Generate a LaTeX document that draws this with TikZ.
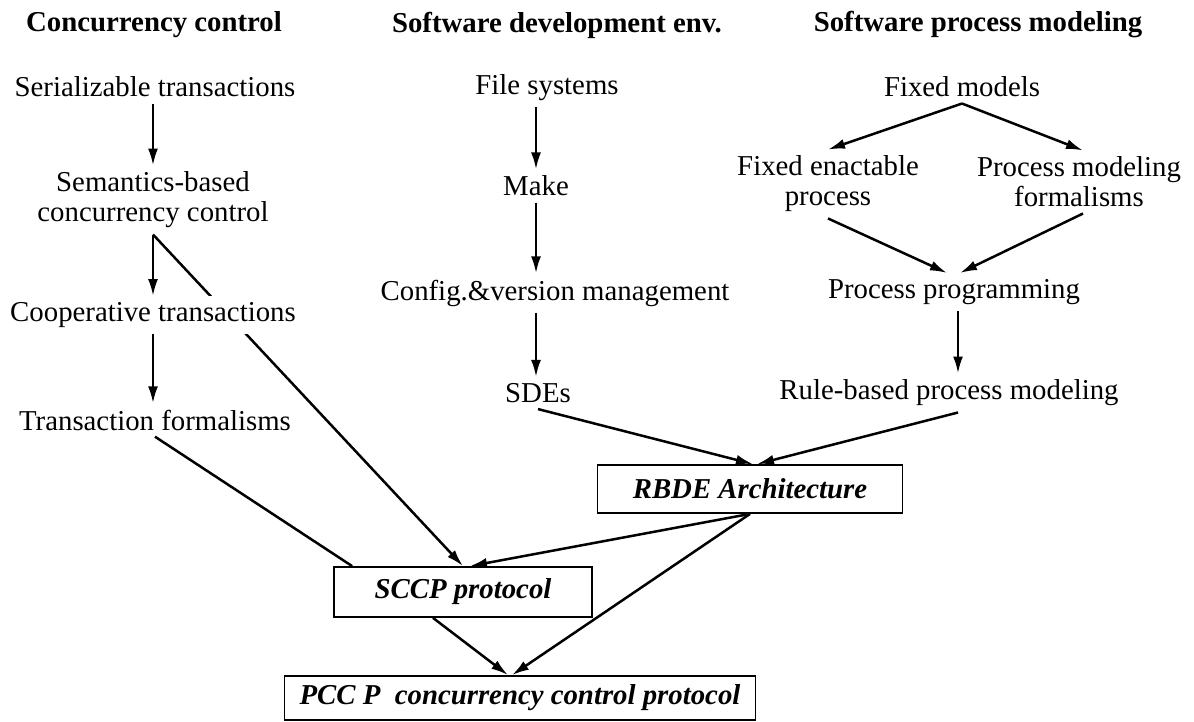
\documentclass[tikz,border=0pt]{standalone}
\usepackage{fontspec}
\setmainfont{Liberation Serif}
\usetikzlibrary{arrows.meta,backgrounds}

\begin{document}
\begin{tikzpicture}[x=0.5pt, y=-0.5pt, font=\fontsize{14.4}{15}\selectfont]

  \tikzstyle{item}=[inner sep=3pt, align=center]
  \tikzstyle{head}=[item, font=\fontsize{14.4}{15}\selectfont\bfseries]
  \tikzstyle{result}=[draw, line width=0.9pt, inner sep=2pt, font=\fontsize{14.4}{15}\selectfont\bfseries\itshape]
  \tikzstyle{link}=[line width=1.25pt]
  \tikzstyle{arr}=[link, -{Latex[length=8.5pt,width=5pt]}]

  \useasboundingbox (0,0) rectangle (1194,722);

  % headings
  \node[head] (hcc) at (154,25) {Concurrency control};
  \node[head] (hsd) at (557,25) {Software development env.};
  \node[head] (hpm) at (978,25) {Software process modeling};

  % concurrency control
  \node[item] (ser)   at (155,87)  {Serializable transactions};
  \node[item] (sem)   at (153,200) {Semantics-based\\concurrency control};
  \node[item, fill=white] (coop) at (153,315) {Cooperative transactions};
  \node[item] (trans) at (155,420) {Transaction formalisms};

  % software development env.
  \node[item] (fs)   at (547,88)  {File systems};
  \node[item] (make) at (536,186) {Make};
  \node[item] (cvm)  at (555,293) {Config.\&version management};
  \node[item] (sdes) at (538,393) {SDEs};

  % software process modeling
  \node[item] (fixed) at (962,87)  {Fixed models};
  \node[item] (fep)   at (828,184) {Fixed enactable\\process};
  \node[item] (pmf)   at (1079,182) {Process modeling\\formalisms};
  \node[item] (pp)    at (954,292) {Process programming};
  \node[item] (rule)  at (949,393) {Rule-based process modeling};

  % results
  \node[result, minimum width=129pt, minimum height=25pt] (sccp) at (463,592) {SCCP protocol};
  \node[result, minimum width=152.5pt, minimum height=24pt] (rbde) at (750,489) {RBDE Architecture};
  \node[result, minimum width=235.5pt, minimum height=22pt] (pccp) at (520,698) {PCC P\ \ concurrency control protocol};

  % left column
  \draw[arr] (ser.south -| sem) -- (sem);
  \draw[arr] (sem.south) -- (coop);
  \draw[arr] (coop.south) -- (coop.south |- trans.north);
  \begin{scope}[on background layer]
    \draw[arr] (sem.south) -- (sccp.north);
  \end{scope}
  \draw[link] (trans.south) -- ([xshift=9.5pt]sccp.north west);

  % middle column
  \draw[arr] (fs.south -| make) -- (make);
  \draw[arr] (make.south) -- (make.south |- cvm.north);
  \draw[arr] (cvm.south -| make) -- (make |- sdes.north);
  \draw[arr] (sdes.south) -- ([xshift=1.5pt]rbde.north);

  % right column
  \draw[arr] (fixed.south) -- (fep.north);
  \draw[arr] (fixed.south) -- ([xshift=2pt]pmf.north);
  \draw[arr] (fep.south) -- ([xshift=-3.5pt]pp.north);
  \draw[arr] ([xshift=2pt]pmf.south) -- ([xshift=3pt]pp.north);
  \draw[arr] ([xshift=2pt]pp.south) -- ([xshift=2pt]pp.south |- rule.north);
  \draw[arr] ([xshift=4.5pt]rule.south) -- ([xshift=3.5pt]rbde.north);

  % protocols
  \draw[arr] (rbde.south) -- ([xshift=3.5pt]sccp.north);
  \draw[arr] (rbde.south) -- ([xshift=-4pt]pccp.north);
  \draw[arr] ([xshift=-15pt]sccp.south) -- ([xshift=-6pt]pccp.north);

\end{tikzpicture}
\end{document}
